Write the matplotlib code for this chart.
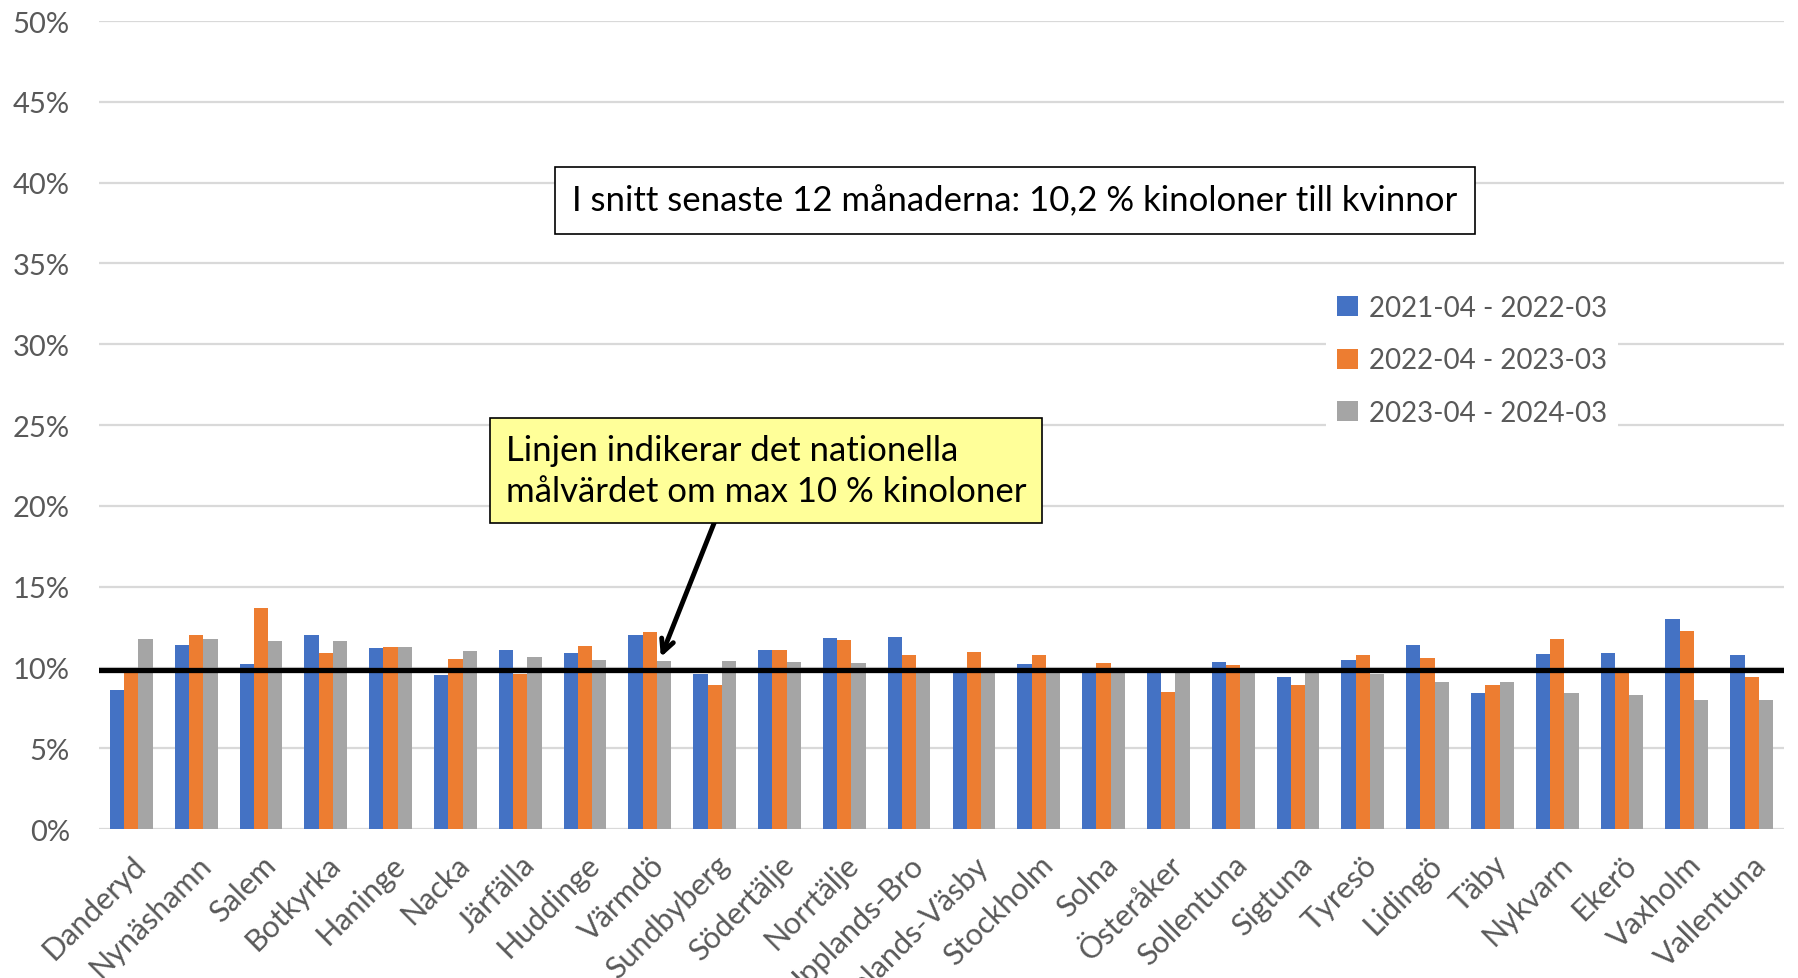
import matplotlib
matplotlib.use("Agg")
import matplotlib.pyplot as plt
import numpy as np

# andel kinoloner till kvinnor per kommun (%), tre 12-manadersperioder
kommuner = ["Danderyd", "Nynäshamn", "Salem", "Botkyrka", "Haninge", "Nacka",
            "Järfälla", "Huddinge", "Värmdö", "Sundbyberg", "Södertälje",
            "Norrtälje", "Upplands-Bro", "Upplands-Väsby", "Stockholm", "Solna",
            "Österåker", "Sollentuna", "Sigtuna", "Tyresö", "Lidingö", "Täby",
            "Nykvarn", "Ekerö", "Vaxholm", "Vallentuna"]
period_1 = [8.6, 11.4, 10.2, 12.0, 11.2, 9.55, 11.1, 10.9, 12.0, 9.6, 11.1,
            11.85, 11.9, 9.8, 10.2, 9.8, 9.65, 10.35, 9.4, 10.45, 11.4, 8.4,
            10.85, 10.9, 13.0, 10.8]
period_2 = [9.8, 12.0, 13.7, 10.9, 11.3, 10.5, 9.6, 11.35, 12.2, 8.9, 11.1,
            11.7, 10.8, 10.95, 10.8, 10.3, 8.5, 10.15, 8.9, 10.8, 10.6, 8.9,
            11.75, 9.8, 12.25, 9.4]
period_3 = [11.75, 11.75, 11.65, 11.65, 11.3, 11.05, 10.65, 10.45, 10.4, 10.4,
            10.35, 10.3, 9.98, 9.95, 9.9, 9.85, 9.8, 9.76, 9.72, 9.6, 9.1, 9.1,
            8.45, 8.3, 8.0, 8.0]
perioder = ["2021-04 - 2022-03", "2022-04 - 2023-03", "2023-04 - 2024-03"]
farger = ["#4472C4", "#ED7D31", "#A5A5A5"]
malvarde = 9.85

plt.rcParams['font.family'] = ['Lato', 'DejaVu Sans']

fig = plt.figure(figsize=(17.99, 9.79), dpi=100)
ax = fig.add_axes([0.055, 0.152, 0.9367, 0.8255])

x = np.arange(len(kommuner))
w = 0.22
for i, (vals, col, lab) in enumerate(zip([period_1, period_2, period_3], farger, perioder)):
    ax.bar(x + (i - 1) * w, vals, w, color=col, label=lab, zorder=2)

# nationella malvardet
ax.axhline(malvarde, color='black', lw=3.8, zorder=3)

ax.set_xlim(-0.5, len(kommuner) - 0.5)
ax.set_ylim(0, 50)
ax.set_yticks(range(0, 51, 5))
ax.yaxis.set_major_formatter(lambda v, p: f"{v:.0f}%")
ax.grid(axis='y', color='#D9D9D9', lw=1.6, zorder=0)
for s in ax.spines.values():
    s.set_visible(False)
ax.tick_params(length=0, colors='#595959')
ax.tick_params(axis='y', pad=21, labelsize=21)
ax.tick_params(axis='x', pad=15, labelsize=22)
ax.set_xticks(x)
ax.set_xticklabels(kommuner, rotation=45, ha='right', va='top', rotation_mode='anchor')

leg = ax.legend(loc='upper left', bbox_to_anchor=(0.737, 0.709), bbox_transform=fig.transFigure,
                frameon=True, facecolor='white', edgecolor='none', framealpha=1,
                fontsize=20, handlelength=0.75, handleheight=0.75, handletextpad=0.4,
                labelspacing=0.95, borderaxespad=0)
for t in leg.get_texts():
    t.set_color('#595959')

fig.text(0.564, 0.794, "I snitt senaste 12 månaderna: 10,2 % kinoloner till kvinnor",
         ha='center', va='center', fontsize=25, color='black',
         bbox=dict(boxstyle='square,pad=0.5', fc='white', ec='black', lw=1.2))

fig.text(0.2813, 0.5184, "Linjen indikerar det nationella\nmålvärdet om max 10 % kinoloner",
         ha='left', va='center', fontsize=25, color='black', linespacing=1.35,
         bbox=dict(boxstyle='square,pad=0.45', fc='#FFFF99', ec='black', lw=1.2))

ax.annotate('', xy=(x[8] + w - 0.05, period_3[8] + 0.25), xycoords='data',
            xytext=(0.3974, 0.4668), textcoords='figure fraction',
            arrowprops=dict(arrowstyle='->,head_length=0.9,head_width=0.45', lw=3.5,
                            color='black', shrinkA=0, shrinkB=0))

fig.savefig("out.png", dpi=100)
